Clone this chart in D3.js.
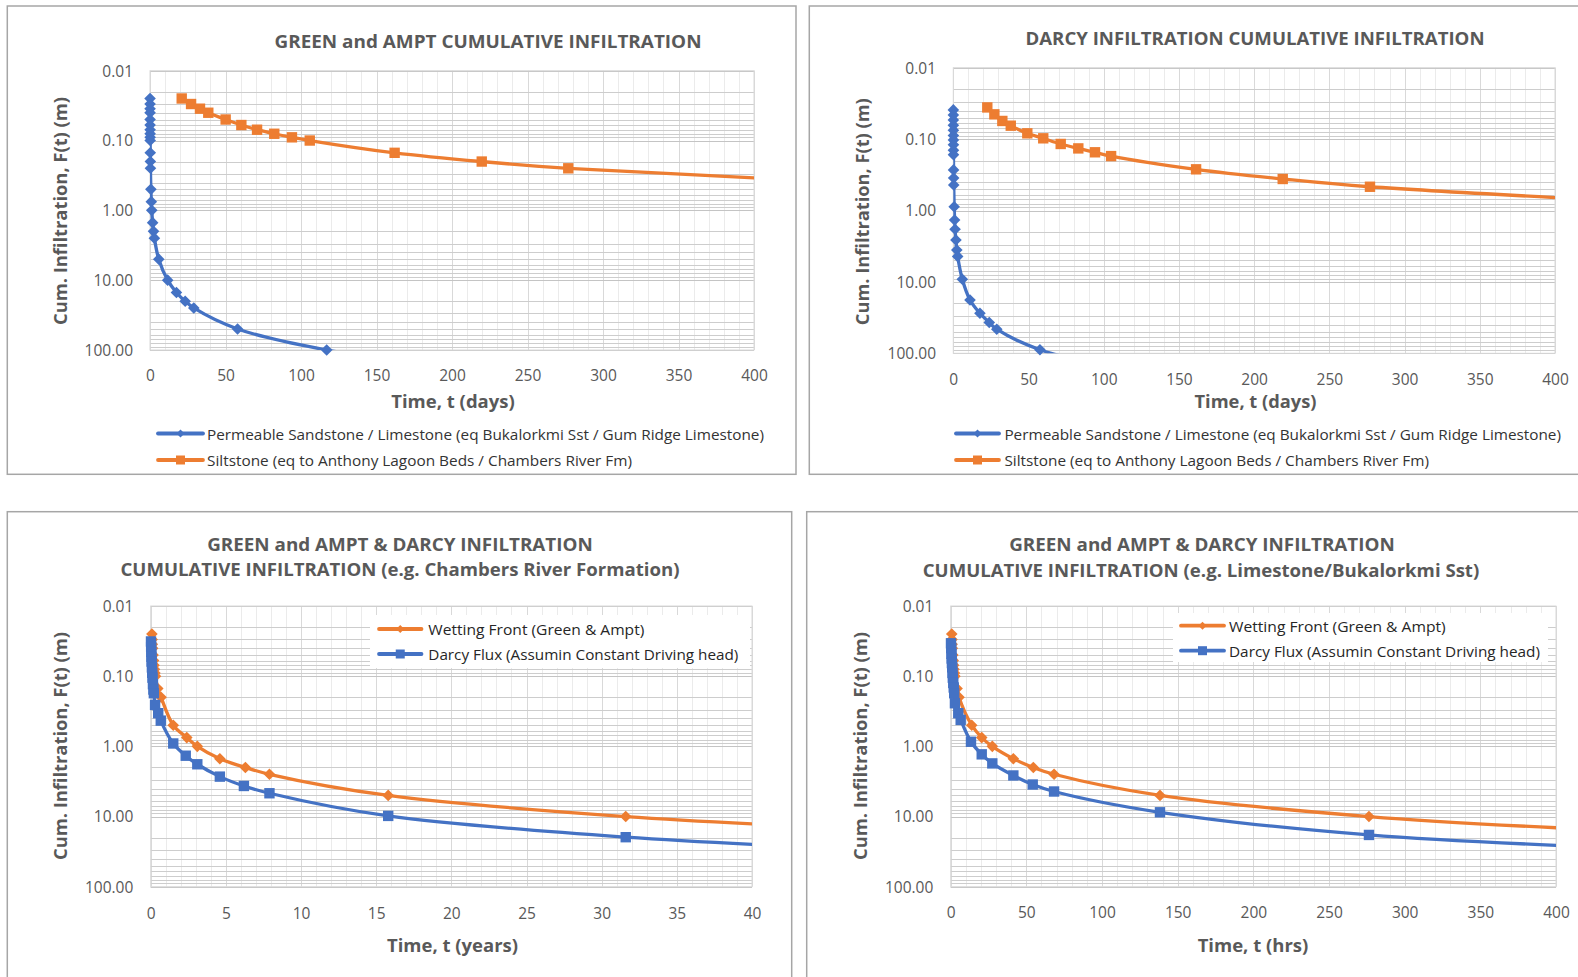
<!DOCTYPE html>
<html>
<head>
<meta charset="utf-8">
<script src="https://cdn.jsdelivr.net/npm/d3@7"></script>
<style>
  html, body { margin: 0; padding: 0; background: #ffffff; }
  svg { display: block; font-family: "Open Sans", "Noto Sans", sans-serif; }
</style>
</head>
<body>
<script>
// ---------------- DATA ----------------
// Shared y tick values (cumulative infiltration, m; log axis, reversed)
const yTickValues = [0.01, 0.1, 1, 10, 100];
const xTicksDays = [0, 50, 100, 150, 200, 250, 300, 350, 400];
const xTicksYears = [0, 5, 10, 15, 20, 25, 30, 35, 40];
const xTicksHrs = [0, 50, 100, 150, 200, 250, 300, 350, 400];

// Panel 1: Green & Ampt cumulative infiltration (days)
const p1SandTime = [0.03, 0.035, 0.04, 0.047, 0.06, 0.07, 0.08, 0.09, 0.1, 0.12, 0.17, 0.23, 0.29, 0.58, 0.87, 1.17, 1.75, 2.33, 2.9, 5.8, 11.7, 17.5, 23.3, 29, 58, 117, 175];
const p1SandF    = [0.025, 0.03, 0.035, 0.04, 0.05, 0.06, 0.07, 0.08, 0.09, 0.1, 0.15, 0.2, 0.25, 0.5, 0.75, 1, 1.5, 2, 2.5, 5, 10, 15, 20, 25, 50, 100, 150];
const p1SiltTime = [21, 27.2, 33.1, 38.6, 50.1, 60.5, 70.9, 82.3, 94, 105.8, 162, 219.7, 277, 560];
const p1SiltF    = [0.025, 0.03, 0.035, 0.04, 0.05, 0.06, 0.07, 0.08, 0.09, 0.1, 0.15, 0.2, 0.25, 0.5];

// Panel 2: Darcy cumulative infiltration (days)
const p2SandTime = [0.03, 0.035, 0.04, 0.047, 0.06, 0.07, 0.08, 0.09, 0.1, 0.12, 0.17, 0.23, 0.29, 0.58, 0.87, 1.17, 1.75, 2.33, 2.9, 6, 11.1, 17.7, 23.9, 28.9, 57.6, 117];
const p2SandF    = [0.039, 0.046, 0.054, 0.064, 0.075, 0.089, 0.103, 0.12, 0.143, 0.165, 0.27, 0.35, 0.44, 0.885, 1.36, 1.83, 2.59, 3.57, 4.4, 9.2, 17.9, 27.5, 37, 46, 89, 180];
const p2SiltTime = [22.6, 27.3, 32.6, 38.2, 49.2, 59.8, 71.4, 83.1, 94.2, 104.9, 161.4, 219, 277, 560];
const p2SiltF    = [0.036, 0.045, 0.0557, 0.0649, 0.083, 0.0975, 0.117, 0.135, 0.153, 0.173, 0.265, 0.362, 0.465, 0.98];

// Panel 3: Green & Ampt vs Darcy, Chambers River Formation (years)
const p3WetTime   = [0.08, 0.095, 0.11, 0.13, 0.16, 0.19, 0.22, 0.25, 0.28, 0.32, 0.47, 0.69, 1.5, 2.4, 3.1, 4.6, 6.3, 7.9, 15.8, 31.6, 47.4];
const p3WetF      = [0.025, 0.03, 0.035, 0.04, 0.05, 0.06, 0.07, 0.08, 0.09, 0.1, 0.15, 0.2, 0.5, 0.75, 1, 1.5, 2, 2.5, 5, 10, 15];
const p3DarcyTime = [0.02, 0.03, 0.04, 0.05, 0.06, 0.08, 0.1, 0.12, 0.15, 0.18, 0.21, 0.29, 0.5, 0.67, 1.5, 2.33, 3.1, 4.6, 6.2, 7.9, 15.8, 31.6, 47.4];
const p3DarcyF    = [0.032, 0.038, 0.045, 0.053, 0.062, 0.075, 0.09, 0.105, 0.13, 0.155, 0.175, 0.257, 0.337, 0.43, 0.91, 1.36, 1.8, 2.7, 3.67, 4.66, 9.8, 19.7, 29.5];

// Panel 4: Green & Ampt vs Darcy, Limestone/Bukalorkmi Sst (hrs)
const p4WetTime   = [0.7, 0.83, 0.97, 1.1, 1.4, 1.66, 1.94, 2.2, 2.5, 2.77, 4.2, 5.5, 13.9, 20.5, 27.5, 41.4, 54.6, 68.3, 138.3, 276.4, 415];
const p4WetF      = [0.025, 0.03, 0.035, 0.04, 0.05, 0.06, 0.07, 0.08, 0.09, 0.1, 0.15, 0.2, 0.5, 0.75, 1, 1.5, 2, 2.5, 5, 10, 15];
const p4DarcyTime = [0.2, 0.35, 0.5, 0.65, 0.8, 1.0, 1.2, 1.4, 1.7, 2.0, 2.3, 2.8, 5.0, 6.6, 13.4, 20.5, 27.5, 41.4, 54.2, 68.3, 138.3, 276.4, 415];
const p4DarcyF    = [0.034, 0.04, 0.048, 0.056, 0.065, 0.075, 0.09, 0.105, 0.125, 0.145, 0.175, 0.243, 0.337, 0.42, 0.86, 1.3, 1.75, 2.6, 3.5, 4.4, 8.7, 18.3, 26.5];

// Labels
const yAxisTitle = "Cum. Infiltration, F(t) (m)";
const sandLabel = "Permeable Sandstone / Limestone (eq Bukalorkmi Sst / Gum Ridge Limestone)";
const siltLabel = "Siltstone (eq to Anthony Lagoon Beds / Chambers River Fm)";
const wetLabel = "Wetting Front (Green & Ampt)";
const darcyLabel = "Darcy Flux (Assumin Constant Driving head)";

// ---------------- STYLE ----------------
const BLUE = "#4472C4", ORANGE = "#ED7D31", TXT = "#595959";
const W = 1578, H = 977;

const svg = d3.select("body").append("svg").attr("width", W).attr("height", H);

function zip(t, f) { return t.map((v, i) => ({ t: v, f: f[i] })); }

function text(g, s, x, y, o = {}) {
  const el = g.append("text")
    .attr("x", x).attr("y", y)
    .attr("fill", o.fill || TXT)
    .attr("font-size", o.size || 15)
    .attr("font-weight", o.bold ? 700 : 400)
    .attr("text-anchor", o.anchor || "start")
    .attr("dominant-baseline", "central")
    .text(s);
  if (o.len) el.attr("textLength", o.len).attr("lengthAdjust", "spacingAndGlyphs");
  if (o.rotate) el.attr("transform", `rotate(-90,${x},${y})`);
  return el;
}

function markerPath(type, r) {
  if (type === "diamond") return `M0,${-r}L${r},0L0,${r}L${-r},0Z`;
  return `M${-r},${-r}H${r}V${r}H${-r}Z`;
}

let clipId = 0;
function panel(cfg) {
  const g = svg.append("g");
  const b = cfg.box;
  g.append("rect").attr("x", b[0]).attr("y", b[1]).attr("width", b[2] - b[0]).attr("height", b[3] - b[1])
    .attr("fill", "#fff").attr("stroke", "#a6a6a6").attr("stroke-width", 1.5);

  const p = cfg.plot;
  const x = d3.scaleLinear().domain(cfg.xDomain).range([p.x0, p.x1]);
  const y = d3.scaleLog().domain([0.01, 100]).range([p.y0, p.y1]);
  const px = v => Math.round(v) + 0.5;

  // vertical gridlines
  const grid = g.append("g");
  const vMinor = d3.range(cfg.xDomain[0], cfg.xDomain[1] + 1e-9, cfg.xMinor);
  grid.selectAll(".vmin").data(vMinor).join("line")
    .attr("x1", d => px(x(d))).attr("x2", d => px(x(d)))
    .attr("y1", p.y0).attr("y2", p.y1)
    .attr("stroke", d => (Math.abs(d / cfg.xMajor - Math.round(d / cfg.xMajor)) < 1e-6) ? "#d9d9d9" : "#ebebeb")
    .attr("stroke-width", 1);
  // horizontal gridlines (log minor ticks 1..9 per decade)
  const hLines = y.ticks();
  grid.selectAll(".h").data(hLines).join("line")
    .attr("x1", p.x0).attr("x2", p.x1)
    .attr("y1", d => px(y(d))).attr("y2", d => px(y(d)))
    .attr("stroke", d => yTickValues.some(v => Math.abs(v - d) / v < 1e-6) ? "#c4c4c4" : "#cdcdcd")
    .attr("stroke-width", 1);
  g.append("rect").attr("x", p.x0).attr("y", p.y0).attr("width", p.x1 - p.x0).attr("height", p.y1 - p.y0)
    .attr("fill", "none").attr("stroke", "#d9d9d9").attr("stroke-width", 1);

  // axes labels via d3 axes (no tick lines / domain)
  const yAxis = d3.axisLeft(y).tickValues(yTickValues).tickFormat(d3.format(".2f")).tickSize(0).tickPadding(0);
  const ya = g.append("g").attr("transform", `translate(${cfg.yLabelX},0)`).call(yAxis);
  ya.select(".domain").remove();
  ya.selectAll("text").attr("fill", TXT).attr("font-size", 15.5).attr("font-family", "Open Sans").attr("dy", "0.35em").attr("x", 0);

  const xAxis = d3.axisBottom(x).tickValues(cfg.xTicks).tickFormat(d3.format("d")).tickSize(0).tickPadding(0);
  const xa = g.append("g").attr("transform", `translate(0,${cfg.xLabelY})`).call(xAxis);
  xa.select(".domain").remove();
  xa.selectAll("text").attr("fill", TXT).attr("font-size", 15.5).attr("font-family", "Open Sans").attr("dy", "0.35em").attr("y", 0);

  // titles
  cfg.titles.forEach(tt => text(g, tt.s, tt.x, tt.y, { anchor: "middle", bold: true, size: 18, len: tt.len }));
  text(g, cfg.xTitle.s, cfg.xTitle.x, cfg.xTitle.y, { anchor: "middle", bold: true, size: 17, len: cfg.xTitle.len });
  text(g, yAxisTitle, cfg.yTitle.x, cfg.yTitle.y, { anchor: "middle", bold: true, size: 17, len: cfg.yTitle.len, rotate: true });

  // clip
  const id = "clip" + (clipId++);
  g.append("clipPath").attr("id", id).append("rect")
    .attr("x", p.x0).attr("y", p.y0).attr("width", p.x1 - p.x0).attr("height", p.y1 - p.y0);

  const line = d3.line().x(d => x(d.t)).y(d => y(d.f)).curve(d3.curveCatmullRom.alpha(0.5));
  cfg.series.forEach(s => {
    const data = zip(s.t, s.f);
    g.append("path").datum(data).attr("d", line).attr("fill", "none")
      .attr("stroke", s.color).attr("stroke-width", 3.3).attr("stroke-linejoin", "round")
      .attr("clip-path", `url(#${id})`);
  });
  cfg.series.forEach(s => {
    const data = zip(s.t, s.f).filter(d => d.t <= cfg.xDomain[1] && d.f <= 100.001);
    g.selectAll(null).data(data).join("path")
      .attr("transform", d => `translate(${x(d.t)},${y(d.f)})`)
      .attr("d", markerPath(s.marker, s.marker === "diamond" ? 5.8 : 5.2))
      .attr("fill", s.color);
  });

  // legend
  const L = cfg.legend;
  if (L.box) {
    g.append("rect").attr("x", L.box[0]).attr("y", L.box[1]).attr("width", L.box[2] - L.box[0]).attr("height", L.box[3] - L.box[1])
      .attr("fill", "#fff");
  }
  L.items.forEach(it => {
    const s = cfg.series[it.i];
    g.append("line").attr("x1", L.lx0).attr("x2", L.lx1).attr("y1", it.y).attr("y2", it.y)
      .attr("stroke", s.color).attr("stroke-width", 3.8).attr("stroke-linecap", "round");
    g.append("path").attr("transform", `translate(${(L.lx0 + L.lx1) / 2},${it.y})`)
      .attr("d", markerPath(s.marker, s.marker === "diamond" ? 4 : 4.5)).attr("fill", s.color);
    text(g, s.label, L.tx, it.y, { size: 15, len: it.len, fill: L.fill || TXT });
  });
}

// Panel 1
panel({
  box: [7.3, 6, 796, 474.3],
  plot: { x0: 150, x1: 754, y0: 70.7, y1: 350 },
  xDomain: [0, 400], xMinor: 10, xMajor: 50, xTicks: xTicksDays,
  yLabelX: 133, xLabelY: 375.4,
  titles: [{ s: "GREEN and AMPT CUMULATIVE INFILTRATION", x: 488, y: 41.3, len: 427 }],
  xTitle: { s: "Time, t (days)", x: 453, y: 401.5, len: 123.5 },
  yTitle: { x: 60.5, y: 211, len: 228 },
  series: [
    { t: p1SandTime, f: p1SandF, color: BLUE, marker: "diamond", label: sandLabel },
    { t: p1SiltTime, f: p1SiltF, color: ORANGE, marker: "square", label: siltLabel }
  ],
  legend: { lx0: 158, lx1: 203, tx: 207, fill: "#333333", items: [{ i: 0, y: 433.5, len: 557 }, { i: 1, y: 460, len: 425 }] }
});

// Panel 2
panel({
  box: [809.3, 6, 1590, 474.3],
  plot: { x0: 953.3, x1: 1555, y0: 67.7, y1: 353.3 },
  xDomain: [0, 400], xMinor: 10, xMajor: 50, xTicks: xTicksDays,
  yLabelX: 936, xLabelY: 379.4,
  titles: [{ s: "DARCY INFILTRATION CUMULATIVE INFILTRATION", x: 1255, y: 38.2, len: 459 }],
  xTitle: { s: "Time, t (days)", x: 1255.5, y: 401.5, len: 122 },
  yTitle: { x: 862.5, y: 211.7, len: 227 },
  series: [
    { t: p2SandTime, f: p2SandF, color: BLUE, marker: "diamond", label: sandLabel },
    { t: p2SiltTime, f: p2SiltF, color: ORANGE, marker: "square", label: siltLabel }
  ],
  legend: { lx0: 956, lx1: 999, tx: 1004.4, fill: "#333333", items: [{ i: 0, y: 433.5, len: 556.6 }, { i: 1, y: 460, len: 424.6 }] }
});

// Panel 3
panel({
  box: [7.3, 511.7, 791.7, 990],
  plot: { x0: 150.7, x1: 752, y0: 606, y1: 886.7 },
  xDomain: [0, 40], xMinor: 1, xMajor: 5, xTicks: xTicksYears,
  yLabelX: 133.3, xLabelY: 913.3,
  titles: [
    { s: "GREEN and AMPT & DARCY INFILTRATION", x: 400, y: 543.5, len: 385.5 },
    { s: "CUMULATIVE INFILTRATION (e.g. Chambers River Formation)", x: 400, y: 569, len: 559 }
  ],
  xTitle: { s: "Time, t (years)", x: 452.5, y: 945, len: 131 },
  yTitle: { x: 60.5, y: 746, len: 228 },
  series: [
    { t: p3WetTime, f: p3WetF, color: ORANGE, marker: "diamond", label: wetLabel },
    { t: p3DarcyTime, f: p3DarcyF, color: BLUE, marker: "square", label: darcyLabel }
  ],
  legend: { box: [370, 615, 750, 668], lx0: 379, lx1: 421.5, tx: 428.3, fill: "#262626",
    items: [{ i: 0, y: 629, len: 216 }, { i: 1, y: 654, len: 310 }] }
});

// Panel 4
panel({
  box: [806.7, 511.7, 1590, 990],
  plot: { x0: 950.7, x1: 1556, y0: 606, y1: 886.7 },
  xDomain: [0, 400], xMinor: 10, xMajor: 50, xTicks: xTicksHrs,
  yLabelX: 933.3, xLabelY: 912.7,
  titles: [
    { s: "GREEN and AMPT & DARCY INFILTRATION", x: 1202, y: 543.5, len: 385.5 },
    { s: "CUMULATIVE INFILTRATION (e.g. Limestone/Bukalorkmi Sst)", x: 1201, y: 569.6, len: 556.5 }
  ],
  xTitle: { s: "Time, t (hrs)", x: 1253, y: 945, len: 110.7 },
  yTitle: { x: 860.8, y: 746, len: 228 },
  series: [
    { t: p4WetTime, f: p4WetF, color: ORANGE, marker: "diamond", label: wetLabel },
    { t: p4DarcyTime, f: p4DarcyF, color: BLUE, marker: "square", label: darcyLabel }
  ],
  legend: { box: [1173, 613, 1548, 662], lx0: 1181, lx1: 1224, tx: 1229, fill: "#262626",
    items: [{ i: 0, y: 625.7, len: 216.7 }, { i: 1, y: 650.7, len: 311 }] }
});
</script>
</body>
</html>
